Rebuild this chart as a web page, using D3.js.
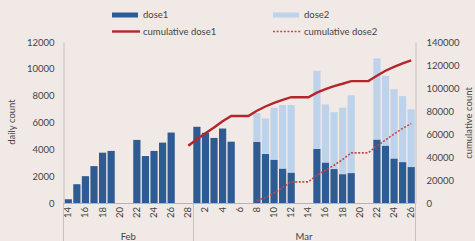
<!DOCTYPE html>
<html><head><meta charset="utf-8">
<script src="https://cdn.jsdelivr.net/npm/d3@7"></script>
<style>
html,body{margin:0;padding:0;background:#f1e9e6;}
svg{display:block;font-family:Lato,"Open Sans",sans-serif;}
</style></head>
<body>
<svg id="chart" width="475" height="241"></svg>
<script>
const dayLabels = ["14","15","16","17","18","19","20","21","22","23","24","25","26","27","28",
  "1","2","3","4","5","6","7","8","9","10","11","12","13","14","15","16","17","18","19","20","21","22","23","24","25","26"];
const monthNames = ["Feb","Mar"];
const monthDays = [15, 26];
const dose1 = [280,1400,2000,2750,3750,3880,0,0,4700,3500,3880,4500,5250,0,0,
  5680,5230,4850,5550,4570,0,0,4550,3650,3230,2570,2270,0,0,4030,3020,2530,2150,2230,0,0,4730,4280,3320,3050,2680];
const dose2 = [0,0,0,0,0,0,0,0,0,0,0,0,0,0,0,
  0,0,0,0,0,0,0,2150,2650,3870,4730,5030,0,0,5820,4330,4240,4950,5800,0,0,6050,5200,5160,4920,4300];
const cumDose1 = [null,null,null,null,null,null,null,null,null,null,null,null,null,null,49800,
  55500,60700,65600,71100,75700,75700,75700,80200,83900,87100,89700,92000,92000,92000,96000,99000,101600,103700,106000,106000,106000,110700,115000,118300,121400,124100];
const cumDose2 = [null,null,null,null,null,null,null,null,null,null,null,null,null,null,null,
  null,null,null,null,null,null,null,2200,4800,8700,13400,18400,18400,18400,24200,28600,32800,37800,43600,43600,43600,49600,54800,60000,64900,69000];
const leftTicks = [0,2000,4000,6000,8000,10000,12000];
const rightTicks = [0,20000,40000,60000,80000,100000,120000,140000];
const seriesNames = ["dose1","dose2","cumulative dose1","cumulative dose2"];

const C = {d1:"#2f5b93", d2:"#bdd3eb", c1:"#b5262c", c2:"#c2474a", axis:"#c9c0bd", text:"#444"};
const svg = d3.select("#chart");
const L = 63.5, R = 415.5, T = 42, B = 203;
const idx = d3.range(dayLabels.length);
const x = d3.scaleBand().domain(idx).range([L+0.5, R]).padding(0);
const bw = x.bandwidth()*0.84, off = x.bandwidth()*0.08;
const yL = d3.scaleLinear().domain([0,12000]).range([B,T]);
const yR = d3.scaleLinear().domain([0,140000]).range([B,T]);

// stacked bars
const stacked = d3.stack().keys(["d1","d2"])(idx.map(i=>({i, d1:dose1[i], d2:dose2[i]})));
stacked.forEach((layer,k)=>{
  svg.append("g").selectAll("rect").data(layer.filter(d=>d[1]>d[0])).join("rect")
    .attr("x", d=>x(d.data.i)+off).attr("width", bw)
    .attr("y", d=>yL(d[1])).attr("height", d=>yL(d[0])-yL(d[1]))
    .attr("fill", k===0?C.d1:C.d2);
});

// axes
const gl = svg.append("g").attr("transform",`translate(${L},0)`)
  .call(d3.axisLeft(yL).tickValues(leftTicks).tickSize(0).tickPadding(9).tickFormat(d3.format("d")));
const gr = svg.append("g").attr("transform",`translate(${R},0)`)
  .call(d3.axisRight(yR).tickValues(rightTicks).tickSize(0).tickPadding(11).tickFormat(d3.format("d")));
[gl,gr].forEach(g=>{
  g.select(".domain").attr("stroke",C.axis);
  g.selectAll("text").attr("fill",C.text).attr("font-size",9.5).attr("font-family","Lato");
});
// baseline
svg.append("line").attr("x1",L).attr("x2",R).attr("y1",B+0.5).attr("y2",B+0.5).attr("stroke","#b9b2b0");

// x tick labels
svg.append("g").selectAll("text").data(idx.filter(i=>i%2===0)).join("text")
  .attr("transform", i=>`translate(${x(i)+x.bandwidth()/2+3},207) rotate(-90)`)
  .attr("text-anchor","end").attr("font-size",9.5).attr("fill",C.text)
  .text(i=>dayLabels[i]);

// month groups
let start = 0;
const seps = [0];
monthNames.forEach((m,k)=>{
  const s = start, e = start + monthDays[k];
  const xs = x(s), xe = e < idx.length ? x(e) : R;
  svg.append("text").attr("x",(xs+xe)/2).attr("y",240).attr("text-anchor","middle")
    .attr("font-size",9.5).attr("fill",C.text).text(m);
  seps.push(e);
  start = e;
});
seps.forEach(e=>{
  const xv = e===0 ? L : (e < idx.length ? Math.round(x(e))+0.5 : R);
  svg.append("line").attr("x1",xv).attr("x2",xv).attr("y1",B).attr("y2",241).attr("stroke",C.axis);
});
svg.append("line").attr("x1",R).attr("x2",R).attr("y1",B).attr("y2",241).attr("stroke",C.axis);

// lines
const lineGen = d3.line().defined(d=>d.v!=null).x(d=>x(d.i)+x.bandwidth()/2).y(d=>yR(d.v));
svg.append("path").datum(idx.map(i=>({i, v:cumDose1[i]})))
  .attr("d",lineGen).attr("fill","none").attr("stroke",C.c1).attr("stroke-width",2.4);
svg.append("path").datum(idx.map(i=>({i, v:cumDose2[i]})))
  .attr("d",lineGen).attr("fill","none").attr("stroke",C.c2).attr("stroke-width",1.6)
  .attr("stroke-dasharray","2,1.6");

// axis titles
svg.append("text").attr("transform","translate(15,122) rotate(-90)").attr("text-anchor","middle")
  .attr("font-size",9.5).attr("fill",C.text).text("daily count");
svg.append("text").attr("transform","translate(472,123) rotate(-90)").attr("text-anchor","middle")
  .attr("font-size",9.5).attr("fill",C.text).text("cumulative count");

// legend
const leg = [
  {n:seriesNames[0], x:112, y:15, t:"rect", c:C.d1},
  {n:seriesNames[1], x:273, y:15, t:"rect", c:C.d2},
  {n:seriesNames[2], x:112, y:31.5, t:"line", c:C.c1},
  {n:seriesNames[3], x:273, y:31.5, t:"dash", c:C.c2}
];
leg.forEach(l=>{
  if(l.t==="rect") svg.append("rect").attr("x",l.x).attr("y",l.y-2.5).attr("width",26).attr("height",5).attr("fill",l.c);
  else svg.append("line").attr("x1",l.x).attr("x2",l.x+28).attr("y1",l.y).attr("y2",l.y)
    .attr("stroke",l.c).attr("stroke-width",l.t==="line"?2.4:1.6).attr("stroke-dasharray",l.t==="dash"?"2,1.6":null);
  svg.append("text").attr("x",l.x+31).attr("y",l.y+3.3).attr("font-size",9.5).attr("fill",C.text).text(l.n);
});
</script>
</body></html>
